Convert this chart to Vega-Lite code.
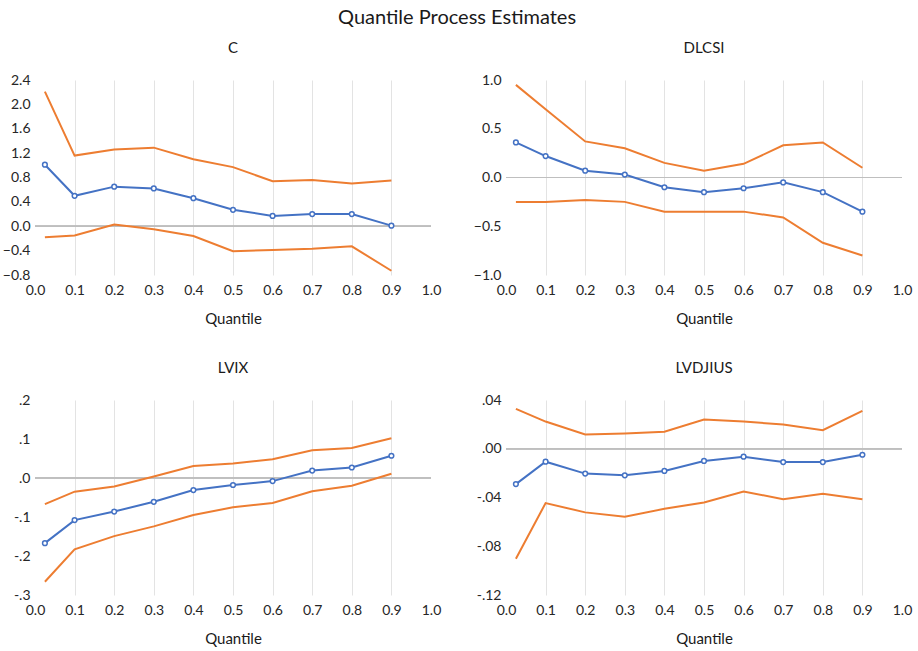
{
  "$schema": "https://vega.github.io/schema/vega-lite/v6.json",
  "background": "white",
  "padding": {"left": 2, "top": 8, "right": 10, "bottom": 5},
  "title": {"text": "Quantile Process Estimates", "fontSize": 20, "fontWeight": "normal", "font": "Lato", "color": "#1a1a1a", "anchor": "middle", "offset": 13},
  "config": {
    "view": {"stroke": null},
    "font": "Lato",
    "axis": {"labelFont": "Lato", "labelFontSize": 14, "labelColor": "#262626", "labelFlush": false, "labelOverlap": false, "tickCount": 20, "titleFont": "Lato", "titleFontSize": 15, "titleFontWeight": "normal", "titleColor": "#1a1a1a", "domain": false, "ticks": false, "gridColor": "#e3e3e3", "gridWidth": 1},
    "title": {"font": "Lato", "fontSize": 15, "fontWeight": "normal", "color": "#1a1a1a", "offset": 17}
  },
  "data": {"values": [
    {"p": "C", "q": 0.025, "est": 1.01, "hi": 2.21, "lo": -0.18},
    {"p": "C", "q": 0.1, "est": 0.50, "hi": 1.16, "lo": -0.15},
    {"p": "C", "q": 0.2, "est": 0.65, "hi": 1.26, "lo": 0.03},
    {"p": "C", "q": 0.3, "est": 0.62, "hi": 1.29, "lo": -0.05},
    {"p": "C", "q": 0.4, "est": 0.46, "hi": 1.10, "lo": -0.16},
    {"p": "C", "q": 0.5, "est": 0.27, "hi": 0.97, "lo": -0.41},
    {"p": "C", "q": 0.6, "est": 0.17, "hi": 0.74, "lo": -0.39},
    {"p": "C", "q": 0.7, "est": 0.20, "hi": 0.76, "lo": -0.37},
    {"p": "C", "q": 0.8, "est": 0.20, "hi": 0.70, "lo": -0.33},
    {"p": "C", "q": 0.9, "est": 0.01, "hi": 0.75, "lo": -0.73},
    {"p": "DLCSI", "q": 0.025, "est": 0.36, "hi": 0.95, "lo": -0.25},
    {"p": "DLCSI", "q": 0.1, "est": 0.22, "hi": 0.70, "lo": -0.25},
    {"p": "DLCSI", "q": 0.2, "est": 0.07, "hi": 0.37, "lo": -0.23},
    {"p": "DLCSI", "q": 0.3, "est": 0.03, "hi": 0.30, "lo": -0.25},
    {"p": "DLCSI", "q": 0.4, "est": -0.10, "hi": 0.15, "lo": -0.35},
    {"p": "DLCSI", "q": 0.5, "est": -0.15, "hi": 0.07, "lo": -0.35},
    {"p": "DLCSI", "q": 0.6, "est": -0.11, "hi": 0.14, "lo": -0.35},
    {"p": "DLCSI", "q": 0.7, "est": -0.05, "hi": 0.33, "lo": -0.41},
    {"p": "DLCSI", "q": 0.8, "est": -0.15, "hi": 0.36, "lo": -0.67},
    {"p": "DLCSI", "q": 0.9, "est": -0.35, "hi": 0.10, "lo": -0.80},
    {"p": "LVIX", "q": 0.025, "est": -0.167, "hi": -0.067, "lo": -0.266},
    {"p": "LVIX", "q": 0.1, "est": -0.108, "hi": -0.035, "lo": -0.183},
    {"p": "LVIX", "q": 0.2, "est": -0.086, "hi": -0.022, "lo": -0.149},
    {"p": "LVIX", "q": 0.3, "est": -0.061, "hi": 0.004, "lo": -0.124},
    {"p": "LVIX", "q": 0.4, "est": -0.031, "hi": 0.031, "lo": -0.095},
    {"p": "LVIX", "q": 0.5, "est": -0.018, "hi": 0.037, "lo": -0.075},
    {"p": "LVIX", "q": 0.6, "est": -0.008, "hi": 0.048, "lo": -0.064},
    {"p": "LVIX", "q": 0.7, "est": 0.019, "hi": 0.071, "lo": -0.034},
    {"p": "LVIX", "q": 0.8, "est": 0.027, "hi": 0.077, "lo": -0.020},
    {"p": "LVIX", "q": 0.9, "est": 0.057, "hi": 0.102, "lo": 0.011},
    {"p": "LVDJIUS", "q": 0.025, "est": -0.029, "hi": 0.0327, "lo": -0.0903},
    {"p": "LVDJIUS", "q": 0.1, "est": -0.0106, "hi": 0.0223, "lo": -0.0446},
    {"p": "LVDJIUS", "q": 0.2, "est": -0.0204, "hi": 0.0117, "lo": -0.0522},
    {"p": "LVDJIUS", "q": 0.3, "est": -0.0218, "hi": 0.0125, "lo": -0.0558},
    {"p": "LVDJIUS", "q": 0.4, "est": -0.0182, "hi": 0.0139, "lo": -0.0493},
    {"p": "LVDJIUS", "q": 0.5, "est": -0.010, "hi": 0.0239, "lo": -0.0441},
    {"p": "LVDJIUS", "q": 0.6, "est": -0.0065, "hi": 0.0223, "lo": -0.0351},
    {"p": "LVDJIUS", "q": 0.7, "est": -0.0109, "hi": 0.0199, "lo": -0.0414},
    {"p": "LVDJIUS", "q": 0.8, "est": -0.0109, "hi": 0.0152, "lo": -0.0370},
    {"p": "LVDJIUS", "q": 0.9, "est": -0.0049, "hi": 0.0310, "lo": -0.0414}
  ]},
  "columns": 2,
  "spacing": {"row": 125, "column": 75},
  "bounds": "flush",
  "concat": [
    {
      "title": {"text": "C"},
      "width": 396, "height": 195,
      "transform": [{"filter": "datum.p == 'C'"}],
      "encoding": {"x": {"field": "q", "type": "quantitative", "scale": {"domain": [0, 1], "nice": false}, "axis": {"title": "Quantile", "values": [0, 0.1, 0.2, 0.3, 0.4, 0.5, 0.6, 0.7, 0.8, 0.9, 1], "format": ".1f", "labelPadding": 8, "titlePadding": 14, "gridOpacity": {"condition": {"test": "datum.index == 0 || datum.index == 1", "value": 0}, "value": 1}}}},
      "layer": [
        {"mark": {"type": "rule", "color": "#bfbfbf", "strokeWidth": 1}, "encoding": {"x": null, "y": {"datum": 0, "type": "quantitative", "scale": {"domain": [-0.8, 2.4], "nice": false}, "axis": {"title": null, "values": [-0.8, -0.4, 0, 0.4, 0.8, 1.2, 1.6, 2.0, 2.4], "format": ".1f", "labelPadding": 5, "gridOpacity": {"condition": {"test": "datum.index == 0 || datum.index == 1", "value": 0}, "value": 1}}}}},
        {"mark": {"type": "line", "color": "#ED7D31", "strokeWidth": 2}, "encoding": {"y": {"field": "hi", "type": "quantitative", "title": null, "scale": {"domain": [-0.8, 2.4], "nice": false}}}},
        {"mark": {"type": "line", "color": "#ED7D31", "strokeWidth": 2}, "encoding": {"y": {"field": "lo", "type": "quantitative", "title": null, "scale": {"domain": [-0.8, 2.4], "nice": false}}}},
        {"mark": {"type": "line", "color": "#4472C4", "strokeWidth": 2, "point": {"filled": false, "fill": "white", "stroke": "#4472C4", "strokeWidth": 1.5, "size": 22}}, "encoding": {"y": {"field": "est", "type": "quantitative", "title": null, "scale": {"domain": [-0.8, 2.4], "nice": false}}}}
      ]
    },
    {
      "title": {"text": "DLCSI"},
      "width": 396, "height": 195,
      "transform": [{"filter": "datum.p == 'DLCSI'"}],
      "encoding": {"x": {"field": "q", "type": "quantitative", "scale": {"domain": [0, 1], "nice": false}, "axis": {"title": "Quantile", "values": [0, 0.1, 0.2, 0.3, 0.4, 0.5, 0.6, 0.7, 0.8, 0.9, 1], "format": ".1f", "labelPadding": 8, "titlePadding": 14, "gridOpacity": {"condition": {"test": "datum.index == 0 || datum.index == 1", "value": 0}, "value": 1}}}},
      "layer": [
        {"mark": {"type": "rule", "color": "#bfbfbf", "strokeWidth": 1}, "encoding": {"x": null, "y": {"datum": 0, "type": "quantitative", "scale": {"domain": [-1, 1], "nice": false}, "axis": {"title": null, "values": [-1, -0.5, 0, 0.5, 1], "format": ".1f", "labelPadding": 5, "gridOpacity": {"condition": {"test": "datum.index == 0 || datum.index == 1", "value": 0}, "value": 1}}}}},
        {"mark": {"type": "line", "color": "#ED7D31", "strokeWidth": 2}, "encoding": {"y": {"field": "hi", "type": "quantitative", "title": null, "scale": {"domain": [-1, 1], "nice": false}}}},
        {"mark": {"type": "line", "color": "#ED7D31", "strokeWidth": 2}, "encoding": {"y": {"field": "lo", "type": "quantitative", "title": null, "scale": {"domain": [-1, 1], "nice": false}}}},
        {"mark": {"type": "line", "color": "#4472C4", "strokeWidth": 2, "point": {"filled": false, "fill": "white", "stroke": "#4472C4", "strokeWidth": 1.5, "size": 22}}, "encoding": {"y": {"field": "est", "type": "quantitative", "title": null, "scale": {"domain": [-1, 1], "nice": false}}}}
      ]
    },
    {
      "title": {"text": "LVIX"},
      "width": 396, "height": 195,
      "transform": [{"filter": "datum.p == 'LVIX'"}],
      "encoding": {"x": {"field": "q", "type": "quantitative", "scale": {"domain": [0, 1], "nice": false}, "axis": {"title": "Quantile", "values": [0, 0.1, 0.2, 0.3, 0.4, 0.5, 0.6, 0.7, 0.8, 0.9, 1], "format": ".1f", "labelPadding": 8, "titlePadding": 14, "gridOpacity": {"condition": {"test": "datum.index == 0 || datum.index == 1", "value": 0}, "value": 1}}}},
      "layer": [
        {"mark": {"type": "rule", "color": "#bfbfbf", "strokeWidth": 1}, "encoding": {"x": null, "y": {"datum": 0, "type": "quantitative", "scale": {"domain": [-0.3, 0.2], "nice": false}, "axis": {"title": null, "values": [-0.3, -0.2, -0.1, 0, 0.1, 0.2], "labelExpr": "replace(replace(format(datum.value, '.1f'), '0.', '.'), '−', '-')", "labelPadding": 5, "gridOpacity": {"condition": {"test": "datum.index == 0 || datum.index == 1", "value": 0}, "value": 1}}}}},
        {"mark": {"type": "line", "color": "#ED7D31", "strokeWidth": 2}, "encoding": {"y": {"field": "hi", "type": "quantitative", "title": null, "scale": {"domain": [-0.3, 0.2], "nice": false}}}},
        {"mark": {"type": "line", "color": "#ED7D31", "strokeWidth": 2}, "encoding": {"y": {"field": "lo", "type": "quantitative", "title": null, "scale": {"domain": [-0.3, 0.2], "nice": false}}}},
        {"mark": {"type": "line", "color": "#4472C4", "strokeWidth": 2, "point": {"filled": false, "fill": "white", "stroke": "#4472C4", "strokeWidth": 1.5, "size": 22}}, "encoding": {"y": {"field": "est", "type": "quantitative", "title": null, "scale": {"domain": [-0.3, 0.2], "nice": false}}}}
      ]
    },
    {
      "title": {"text": "LVDJIUS"},
      "width": 396, "height": 195,
      "transform": [{"filter": "datum.p == 'LVDJIUS'"}],
      "encoding": {"x": {"field": "q", "type": "quantitative", "scale": {"domain": [0, 1], "nice": false}, "axis": {"title": "Quantile", "values": [0, 0.1, 0.2, 0.3, 0.4, 0.5, 0.6, 0.7, 0.8, 0.9, 1], "format": ".1f", "labelPadding": 8, "titlePadding": 14, "gridOpacity": {"condition": {"test": "datum.index == 0 || datum.index == 1", "value": 0}, "value": 1}}}},
      "layer": [
        {"mark": {"type": "rule", "color": "#bfbfbf", "strokeWidth": 1}, "encoding": {"x": null, "y": {"datum": 0, "type": "quantitative", "scale": {"domain": [-0.12, 0.04], "nice": false}, "axis": {"title": null, "values": [-0.12, -0.08, -0.04, 0, 0.04], "labelExpr": "replace(replace(format(datum.value, '.2f'), '0.', '.'), '−', '-')", "labelPadding": 5, "gridOpacity": {"condition": {"test": "datum.index == 0 || datum.index == 1", "value": 0}, "value": 1}}}}},
        {"mark": {"type": "line", "color": "#ED7D31", "strokeWidth": 2}, "encoding": {"y": {"field": "hi", "type": "quantitative", "title": null, "scale": {"domain": [-0.12, 0.04], "nice": false}}}},
        {"mark": {"type": "line", "color": "#ED7D31", "strokeWidth": 2}, "encoding": {"y": {"field": "lo", "type": "quantitative", "title": null, "scale": {"domain": [-0.12, 0.04], "nice": false}}}},
        {"mark": {"type": "line", "color": "#4472C4", "strokeWidth": 2, "point": {"filled": false, "fill": "white", "stroke": "#4472C4", "strokeWidth": 1.5, "size": 22}}, "encoding": {"y": {"field": "est", "type": "quantitative", "title": null, "scale": {"domain": [-0.12, 0.04], "nice": false}}}}
      ]
    }
  ]
}
